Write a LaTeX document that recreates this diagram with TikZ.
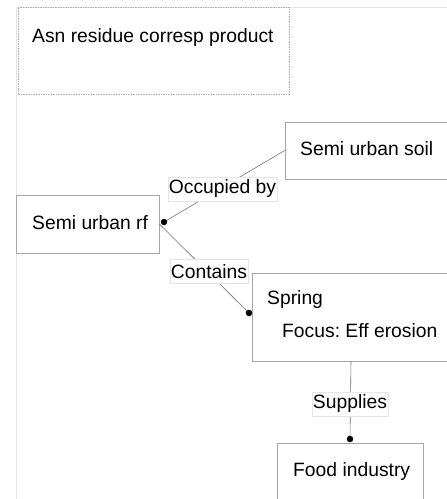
\documentclass[tikz,border=0pt]{standalone}
\usepackage{fontspec}
\setmainfont{Liberation Sans}
\frenchspacing
\newcommand{\myfs}{\fontsize{19.3pt}{23pt}\selectfont}
\begin{document}
\begin{tikzpicture}[x=1pt,y=-1pt,
  box/.style={draw=black!35, line width=0.8pt, rectangle, inner sep=0pt},
  dbox/.style={draw=black!30, line width=0.7pt, rectangle, inner sep=0pt, dash pattern=on 1.5pt off 1pt},
  lbl/.style={fill=white, draw=black!10, line width=0.5pt, inner xsep=1pt, inner ysep=0pt, minimum height=24pt, font=\myfs},
  txt/.style={anchor=west, inner sep=0pt, font=\myfs},
  conn/.style={draw=black!55, line width=0.6pt},
  dotc/.style={circle, fill=black, inner sep=0pt, minimum size=6.5pt}]
\useasboundingbox (0,0) rectangle (447,499);
\clip (0,0) rectangle (447,499);
% faint frame
\draw[black!10, line width=0.6pt] (16.5,499) -- (16.5,7) -- (447,7);
% boxes
\node[dbox, minimum width=271pt, minimum height=87pt] (top) at (153.5,50.5) {};
\node[txt] (toptxt) at (32,38) {Asn residue corresp product};
\node[box, fill=white, minimum width=170pt, minimum height=57pt] (soil) at (370,150.5) {};
\node[txt] (soiltxt) at (300,149) {Semi urban soil};
\node[box, fill=white, minimum width=143pt, minimum height=58pt] (rf) at (87.5,224) {};
\node[txt] (rftxt) at (32,223) {Semi urban rf};
\node[box, fill=white, minimum width=200pt, minimum height=88pt] (spring) at (352,317) {};
\node[txt] (springtxt) at (267,300) {Spring};
\node[txt] (focustxt) at (282,331) {Focus: Eff erosion};
\node[box, fill=white, minimum width=146pt, minimum height=80pt] (food) at (350,483) {};
\node[txt] (foodtxt) at (293,472) {Food industry};
% anchor points
\coordinate (rfdot) at (164,222);
\coordinate (springdot) at (249,313);
\coordinate (fooddot) at (350,439);
\coordinate (springbot) at (351,361);
% connectors
\draw[conn] (rfdot) -- (soil.west);
\draw[conn] (rf.east) -- (springdot);
\draw[conn] (springbot) -- (fooddot);
% labels
\node[lbl] (occ) at (222.5,189) {Occupied by};
\node[lbl] (cont) at (209,271.5) {Contains};
\node[lbl] (sup) at (350,404) {Supplies};
% dots
\node[dotc] (d1) at (rfdot) {};
\node[dotc] (d2) at (springdot) {};
\node[dotc] (d3) at (fooddot) {};
\end{tikzpicture}
\end{document}
